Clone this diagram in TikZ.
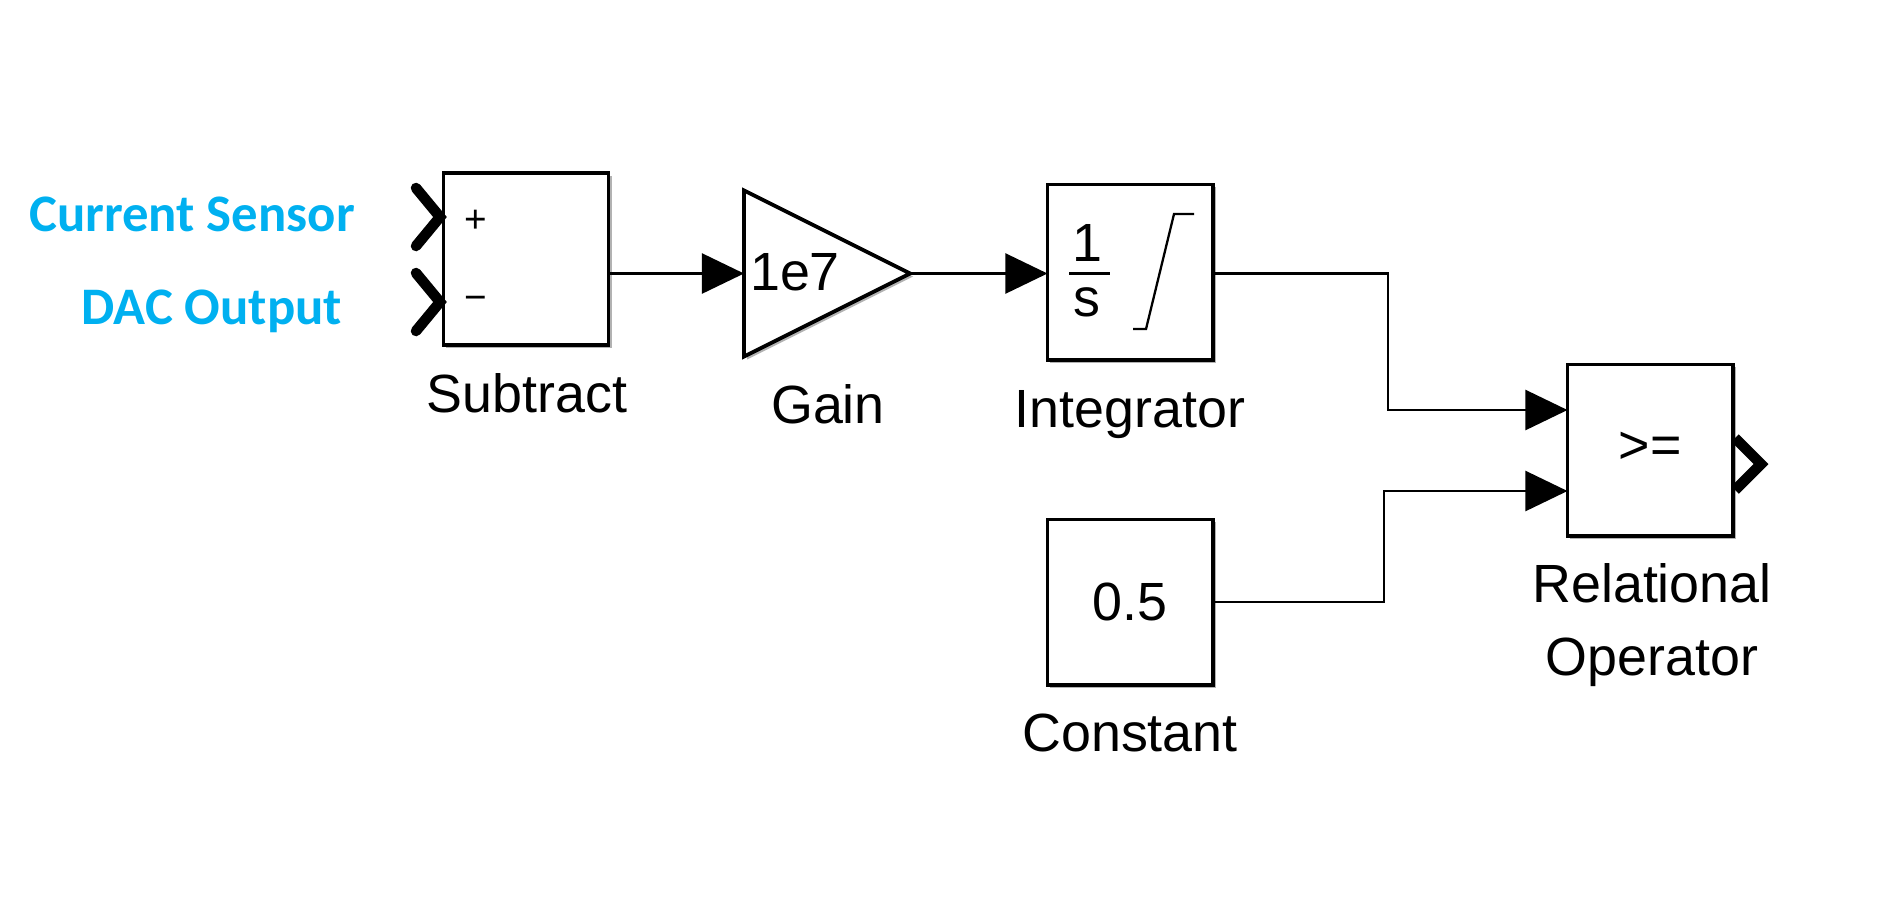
\documentclass[tikz,border=0pt]{standalone}
\usepackage{fontspec}
\setmainfont{Liberation Sans}
\newfontfamily\sensorfont{Carlito}
\usetikzlibrary{arrows.meta,shapes.geometric,shadows}
\definecolor{sensorblue}{HTML}{00B0F0}
\tikzset{
	blockbox/.style={draw,fill=white,line width=1.1pt,minimum width=1.65cm,inner sep=0pt,outer sep=0pt,
		drop shadow={shadow xshift=0.03cm,shadow yshift=-0.03cm,fill=black!60}},
	gainbox/.style={draw,fill=white,line width=1.1pt,shape=isosceles triangle,isosceles triangle stretches,minimum height=1.66cm,minimum width=1.66cm,inner sep=0pt,outer sep=0pt,
		drop shadow={shadow xshift=0.03cm,shadow yshift=-0.03cm,fill=black!60}},
	signal/.style={line width=0.65pt,->},
	port/.style={line width=3pt,line cap=round,line join=miter},
	caption/.style={font=\fontsize{15.3}{18}\selectfont},
	sensor/.style={font=\fontsize{15}{18}\sensorfont\bfseries,text=sensorblue}
}
\begin{document}
\begin{tikzpicture}[x=0.01cm,y=-0.01cm,line join=miter,>={Stealth[inset=0pt,length=0.42cm,width=0.40cm]}]
	\useasboundingbox (0,0) rectangle (1898,905);
	\node[blockbox,minimum height=1.72cm] (subtract) at (526,259) {};
	\node[gainbox,anchor=lower side] (gain) at (744,273.5) {};
	\node[blockbox,minimum height=1.75cm] (integrator) at (1130,272) {};
	\node[blockbox,minimum height=1.65cm] (constant) at (1130,602) {\fontsize{15.3}{18}\selectfont 0.5};
	\node[blockbox,minimum height=1.71cm] (relop) at (1650,450) {};
	\node[font=\fontsize{15.3}{18}\selectfont] (gainval) at (795,272) {1e7};
	\node[font=\fontsize{11}{18}\selectfont] (plus) at (476,221) {+};
	\node[font=\fontsize{11}{18}\selectfont] (minus) at (476,303) {−};
	\node[font=\fontsize{15.3}{18}\selectfont] (one) at (1087,243) {1};
	\node[font=\fontsize{15.3}{18}\selectfont] (ess) at (1087,302) {s};
	\node[font=\fontsize{15.3}{18}\selectfont] (relsym) at (1650,448) {>=};
	\draw[line width=0.65pt] (1069,273.5)--(1110,273.5);
	\draw[line width=0.65pt] (1133,329)--(1146,329)--(1174,214)--(1194,214);
	\node[caption] (subtractname) at (527,393) {Subtract};
	\node[caption] (gainname) at (828,404) {Gain};
	\node[caption] (integratorname) at (1130,415) {Integrator};
	\node[caption] (constantname) at (1130,733) {Constant};
	\node[caption,align=center,text width=3cm,font=\fontsize{15.3}{20.7}\selectfont] (relopname) at (1652,625) {Relational\\Operator};
	\node[sensor] (current) at (192,214) {Current Sensor};
	\node[sensor] (dac) at (212,311) {DAC Output};
	\coordinate (inone) at (440,217);
	\coordinate (intwo) at (440,302);
	\coordinate (outrel) at (1761,464);
	\draw[port] (416,188)--(inone)--(416,246);
	\draw[port] (416,273)--(intwo)--(416,331);
	\draw[port,line cap=butt] (1735,438)--(outrel)--(1735,490);
	\coordinate (relone) at (relop.west |- 0,410);
	\coordinate (reltwo) at (relop.west |- 0,491);
	\draw[signal] (subtract.east |- gain.lower side)--(gain.lower side);
	\draw[signal] (gain.apex)--(integrator.west |- gain.apex);
	\draw[signal] (integrator.east |- gain.apex)-|(1388,410)--(relone);
	\draw[signal] (constant.east)-|(1384,491)--(reltwo);
\end{tikzpicture}
\end{document}
